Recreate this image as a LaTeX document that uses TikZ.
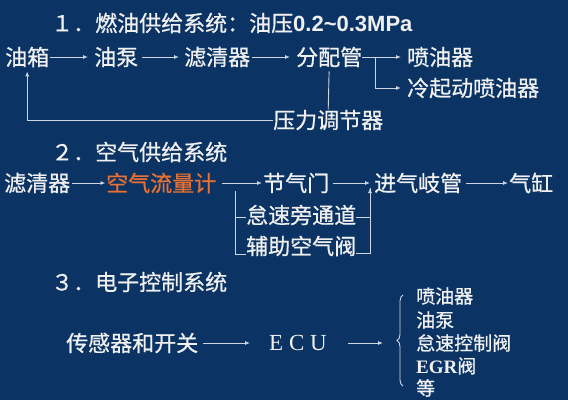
\documentclass[tikz,border=0pt]{standalone}
\usepackage{fontspec}
\setmainfont{Noto Sans CJK SC}[FakeBold=0.7]
\newfontfamily\lsans{Liberation Sans}
\newfontfamily\lserif{Liberation Serif}
\usetikzlibrary{arrows.meta,decorations.pathreplacing}
\definecolor{bg}{RGB}{11,52,101}
\definecolor{fg}{RGB}{240,240,240}
\definecolor{ln}{RGB}{205,214,226}
\definecolor{org}{RGB}{232,112,48}
\begin{document}
\begin{tikzpicture}[x=1pt,y=-1pt,
  lbl/.style={anchor=west, inner sep=0pt, text=fg, font=\fontsize{22}{26}\selectfont},
  sml/.style={anchor=west, inner sep=0pt, text=fg, font=\fontsize{19}{22}\selectfont},
  conn/.style={draw=ln, line width=0.9pt},
  arr/.style={conn, -{Latex[length=5pt,width=4pt]}}]
\fill[bg] (0,0) rectangle (568,400);
\useasboundingbox (0,0) rectangle (568,400);

% ---- 1
\node[lbl] (t1) at (51,23) {１．燃油供给系统：油压{\lsans\bfseries 0.2\textasciitilde0.3MPa}};
\node[lbl] (tank) at (5,57) {油箱};
\node[lbl] (pump) at (94,57) {油泵};
\node[lbl] (filt1) at (184,57) {滤清器};
\node[lbl] (dist) at (296,57) {分配管};
\node[lbl] (inj) at (407,57) {喷油器};
\node[lbl] (cold) at (407,88) {冷起动喷油器};
\node[lbl] (reg) at (273,120) {压力调节器};
\coordinate (br1) at (375,57);

\draw[arr, shorten <=1pt, shorten >=6pt] (tank) -- (pump);
\draw[arr, shorten <=4pt, shorten >=5pt] (pump) -- (filt1);
\draw[arr, shorten <=2pt, shorten >=6pt] (filt1) -- (dist);
\draw[arr, shorten >=6pt] (dist.east) -- (inj.west);
\draw[arr, shorten >=6pt] (br1) |- (cold.west);
\draw[conn, shorten <=4pt] (dist.south) -- (reg.north);
\draw[arr, shorten >=4pt] (reg.west) -| (tank.south);

% ---- 2
\node[lbl] (t2) at (51,152) {２．空气供给系统};
\node[lbl] (filt2) at (4,183) {滤清器};
\node[lbl, text=org] (afm) at (106,183) {空气流量计};
\node[lbl] (thr) at (263,183) {节气门};
\node[lbl] (man) at (374,183) {进气岐管};
\node[lbl] (cyl) at (509,183) {气缸};
\node[lbl] (idle) at (246,215) {怠速旁通道};
\node[lbl] (aux) at (246,246) {辅助空气阀};
\coordinate (bl) at (235,191);
\coordinate (mi) at ([xshift=-4pt]man.west);

\draw[arr, shorten <=2pt, shorten >=0.5pt] (filt2) -- (afm);
\draw[arr, shorten <=6pt, shorten >=1pt] (afm) -- (thr);
\draw[arr, shorten <=4pt] (thr.east) -- (mi);
\draw[arr, shorten <=4pt, shorten >=1pt] (man) -- (cyl);
\draw[conn] (bl) |- ([yshift=-2pt]idle.west);
\draw[conn] (bl) |- ([yshift=-8pt]aux.west);
\draw[conn] ([yshift=-2pt]idle.east) -| ([yshift=-5pt]mi);
\draw[arr] ([yshift=-7pt]aux.east) -| ([yshift=-5pt]mi);

% ---- 3
\node[lbl] (t3) at (51,282) {３．电子控制系统};
\node[lbl] (sens) at (66,343) {传感器和开关};
\node[lbl, font=\lserif\fontsize{23}{26}\selectfont] (ecu) at (269,343) {E C U};
\node[sml] (o1) at (416,296) {喷油器};
\node[sml] (o2) at (416,320) {油泵};
\node[sml] (o3) at (416,343) {怠速控制阀};
\node[sml] (o4) at (416,366) {{\lserif\bfseries EGR}阀};
\node[sml] (o5) at (416,388) {等};
\coordinate (bt) at (383,343);
\coordinate (bb) at (403,386);
\coordinate (bu) at (403,295);

\draw[arr, shorten <=5pt, shorten >=19pt] (sens) -- (ecu);
\draw[arr, shorten <=21pt] (ecu.east) -- (bt);
\draw[conn, decorate, decoration={brace, amplitude=6pt}] (bb) -- (bu);
\end{tikzpicture}
\end{document}
